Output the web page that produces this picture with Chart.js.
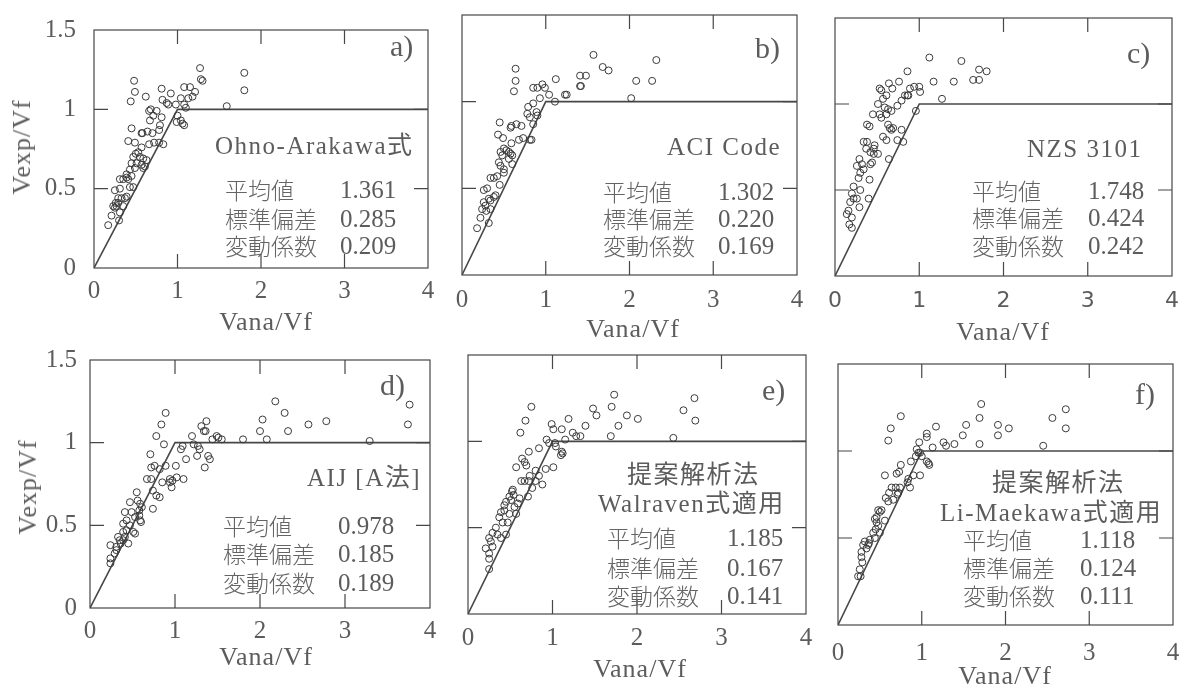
<!DOCTYPE html>
<html>
<head>
<meta charset="utf-8">
<script src="https://cdn.jsdelivr.net/npm/chart.js@4.4.0/dist/chart.umd.min.js"></script>
<style>
  html, body { margin: 0; padding: 0; background: #fff; }
  body { width: 1180px; height: 688px; position: relative; overflow: hidden; }
  canvas { position: absolute; }
  .t { position: absolute; white-space: nowrap; color: #5c5c5c; line-height: 1;
       font-family: "Liberation Serif", "Noto Sans CJK JP", serif; transform: translateY(-50%); }
  .c { transform: translate(-50%, -50%); }
  .jp { font-family: "Noto Sans CJK JP", sans-serif; font-weight: 300; font-size: 23px; color: #646464; }
</style>
</head>
<body>
<script>
// data (x = Vana/Vf, y = Vexp/Vf)
var ohnoPts = [[1.27,1.26],[1.80,1.23],[1.28,1.19],[1.30,1.18],[1.80,1.12],[0.48,1.18],[0.49,1.11],[0.81,1.13],[0.92,1.10],[0.62,1.08],[0.44,1.05],[1.08,1.14],[1.15,1.14],[1.21,1.11],[1.18,1.08],[1.13,1.07],[1.04,1.07],[0.82,1.06],[0.87,1.04],[0.89,1.03],[0.98,1.03],[1.08,1.03],[1.10,1.01],[1.59,1.02],[0.68,1.00],[0.66,0.99],[0.75,0.99],[0.71,0.96],[0.81,0.95],[0.67,0.93],[1.00,0.96],[0.99,0.92],[1.04,0.93],[1.06,0.91],[1.08,0.90],[0.45,0.88],[0.58,0.85],[0.57,0.85],[0.64,0.86],[0.70,0.85],[0.79,0.90],[0.78,0.87],[0.83,0.78],[0.41,0.80],[0.49,0.79],[0.57,0.76],[0.66,0.78],[0.72,0.79],[0.78,0.79],[0.50,0.72],[0.53,0.73],[0.47,0.70],[0.55,0.70],[0.59,0.69],[0.63,0.68],[0.45,0.66],[0.51,0.66],[0.57,0.65],[0.61,0.64],[0.43,0.62],[0.49,0.63],[0.59,0.63],[0.39,0.59],[0.45,0.58],[0.41,0.56],[0.31,0.56],[0.35,0.56],[0.39,0.57],[0.43,0.51],[0.47,0.51],[0.25,0.49],[0.31,0.50],[0.39,0.45],[0.37,0.44],[0.33,0.44],[0.29,0.44],[0.26,0.41],[0.29,0.41],[0.23,0.39],[0.27,0.39],[0.25,0.38],[0.35,0.39],[0.31,0.35],[0.21,0.33],[0.30,0.30],[0.17,0.27]];
var aciPts = [[1.57,1.27],[2.32,1.24],[1.68,1.20],[1.75,1.18],[0.64,1.19],[0.64,1.12],[1.12,1.13],[1.41,1.15],[1.48,1.15],[2.08,1.12],[2.27,1.12],[0.62,1.06],[0.85,1.08],[0.90,1.08],[0.96,1.10],[0.99,1.08],[1.04,1.04],[0.93,1.02],[1.11,1.00],[1.41,1.09],[1.42,1.09],[1.23,1.04],[1.25,1.04],[2.02,1.02],[0.79,0.97],[0.85,0.99],[0.78,0.93],[0.81,0.91],[0.89,0.94],[0.90,0.92],[0.85,0.87],[0.45,0.88],[0.58,0.85],[0.59,0.86],[0.65,0.87],[0.71,0.86],[0.43,0.81],[0.49,0.79],[0.59,0.76],[0.68,0.78],[0.73,0.79],[0.81,0.78],[0.83,0.78],[0.50,0.73],[0.53,0.72],[0.56,0.71],[0.46,0.71],[0.48,0.69],[0.58,0.70],[0.60,0.69],[0.44,0.65],[0.46,0.63],[0.50,0.61],[0.56,0.67],[0.60,0.64],[0.34,0.56],[0.38,0.56],[0.42,0.57],[0.50,0.59],[0.45,0.52],[0.26,0.49],[0.30,0.50],[0.34,0.43],[0.38,0.45],[0.40,0.46],[0.32,0.44],[0.26,0.42],[0.28,0.40],[0.24,0.38],[0.29,0.37],[0.34,0.38],[0.22,0.33],[0.32,0.30],[0.18,0.27]];
var nzsPts = [[1.12,1.27],[1.50,1.25],[1.71,1.20],[1.80,1.19],[1.64,1.14],[1.71,1.14],[0.86,1.19],[0.64,1.12],[0.76,1.13],[1.17,1.13],[1.41,1.13],[1.27,1.03],[0.53,1.09],[0.55,1.08],[0.61,1.05],[0.68,1.09],[0.89,1.09],[0.94,1.10],[1.00,1.10],[1.01,1.07],[0.83,1.05],[0.86,1.05],[0.87,1.05],[0.79,1.02],[0.74,0.99],[0.57,1.03],[0.51,1.00],[0.59,0.98],[0.63,0.97],[0.67,0.96],[0.96,0.96],[0.45,0.94],[0.53,0.94],[0.55,0.92],[0.61,0.94],[0.38,0.88],[0.41,0.87],[0.63,0.88],[0.65,0.86],[0.67,0.85],[0.69,0.86],[0.79,0.85],[0.57,0.81],[0.61,0.79],[0.74,0.79],[0.81,0.78],[0.34,0.78],[0.38,0.78],[0.37,0.74],[0.46,0.74],[0.47,0.76],[0.51,0.71],[0.42,0.72],[0.46,0.71],[0.29,0.68],[0.32,0.65],[0.26,0.64],[0.34,0.62],[0.42,0.65],[0.44,0.66],[0.30,0.60],[0.28,0.57],[0.41,0.56],[0.22,0.52],[0.30,0.50],[0.20,0.48],[0.22,0.45],[0.26,0.45],[0.40,0.45],[0.18,0.43],[0.29,0.40],[0.16,0.38],[0.14,0.36],[0.20,0.34],[0.17,0.30],[0.20,0.28],[0.64,0.68]];
var aijPts = [[2.18,1.25],[2.29,1.18],[3.76,1.23],[0.89,1.18],[2.03,1.14],[1.37,1.13],[0.84,1.11],[1.31,1.10],[1.34,1.07],[1.36,1.07],[2.00,1.07],[2.33,1.07],[2.57,1.11],[2.78,1.13],[3.74,1.11],[0.78,1.04],[1.20,1.04],[1.49,1.04],[1.51,1.03],[1.44,1.02],[1.55,1.02],[1.80,1.02],[2.08,1.02],[3.29,1.01],[0.87,0.99],[1.09,0.98],[1.22,0.99],[1.27,0.98],[1.07,0.96],[1.29,0.96],[1.26,0.92],[1.39,0.92],[1.41,0.90],[0.71,0.93],[1.13,0.90],[1.01,0.86],[0.72,0.85],[0.76,0.86],[0.82,0.84],[0.89,0.86],[1.35,0.85],[1.02,0.79],[0.94,0.78],[0.97,0.77],[1.10,0.78],[0.94,0.76],[0.96,0.73],[0.67,0.78],[0.72,0.78],[0.85,0.76],[0.74,0.71],[0.78,0.68],[0.82,0.67],[0.74,0.60],[0.55,0.70],[0.56,0.65],[0.47,0.64],[0.59,0.63],[0.61,0.61],[0.41,0.58],[0.49,0.58],[0.58,0.59],[0.53,0.55],[0.58,0.56],[0.59,0.53],[0.60,0.52],[0.43,0.53],[0.47,0.50],[0.39,0.51],[0.53,0.45],[0.33,0.43],[0.35,0.41],[0.41,0.43],[0.39,0.41],[0.45,0.39],[0.36,0.39],[0.31,0.37],[0.24,0.38],[0.31,0.35],[0.24,0.30],[0.24,0.27],[0.39,0.46],[0.51,0.46],[0.43,0.47],[0.29,0.33]];
var walravenPts = [[1.73,1.27],[2.68,1.25],[0.75,1.20],[1.48,1.19],[1.70,1.20],[1.52,1.15],[1.88,1.15],[2.55,1.18],[0.68,1.12],[1.19,1.13],[2.01,1.13],[2.69,1.12],[0.62,1.05],[0.99,1.10],[1.01,1.07],[1.11,1.07],[1.39,1.09],[1.78,1.09],[1.24,1.05],[1.28,1.03],[1.33,1.03],[1.15,1.01],[1.69,1.03],[2.43,1.02],[0.93,1.01],[0.96,0.99],[1.03,0.99],[1.04,0.97],[1.11,0.94],[1.12,0.93],[1.10,0.92],[0.84,0.96],[0.72,0.94],[0.64,0.90],[0.57,0.85],[0.67,0.88],[0.69,0.86],[0.80,0.83],[0.92,0.84],[1.01,0.85],[0.88,0.75],[0.73,0.80],[0.63,0.77],[0.67,0.77],[0.72,0.77],[0.80,0.77],[0.84,0.80],[0.76,0.73],[0.71,0.68],[0.53,0.72],[0.52,0.71],[0.49,0.68],[0.54,0.69],[0.45,0.65],[0.51,0.66],[0.59,0.64],[0.43,0.60],[0.39,0.59],[0.49,0.58],[0.37,0.56],[0.47,0.53],[0.41,0.53],[0.33,0.50],[0.29,0.47],[0.35,0.46],[0.39,0.44],[0.45,0.46],[0.25,0.44],[0.27,0.42],[0.21,0.38],[0.29,0.39],[0.25,0.35],[0.25,0.32],[0.25,0.26],[0.55,0.62],[0.57,0.58],[0.61,0.67],[0.43,0.63]];
var liMaekawaPts = [[1.71,1.27],[2.72,1.24],[0.75,1.20],[1.69,1.19],[0.63,1.13],[1.17,1.14],[1.53,1.15],[1.91,1.15],[2.04,1.13],[2.56,1.19],[2.72,1.13],[1.91,1.09],[0.60,1.06],[0.97,1.05],[1.06,1.10],[1.06,1.08],[1.13,1.02],[1.26,1.05],[1.29,1.03],[1.39,1.04],[1.49,1.09],[1.69,1.04],[2.45,1.03],[0.94,1.01],[0.96,0.99],[0.98,0.99],[0.93,0.97],[1.00,0.97],[1.06,0.94],[1.08,0.93],[1.09,0.92],[0.56,0.86],[0.70,0.87],[0.73,0.88],[0.75,0.92],[0.87,0.94],[0.90,0.86],[0.98,0.86],[0.84,0.84],[0.83,0.82],[0.86,0.79],[0.64,0.79],[0.69,0.79],[0.74,0.79],[0.72,0.76],[0.61,0.76],[0.57,0.73],[0.60,0.71],[0.66,0.72],[0.71,0.75],[0.48,0.66],[0.52,0.66],[0.50,0.65],[0.56,0.60],[0.44,0.61],[0.46,0.59],[0.48,0.57],[0.45,0.55],[0.50,0.53],[0.42,0.53],[0.38,0.49],[0.37,0.47],[0.36,0.46],[0.32,0.48],[0.34,0.44],[0.28,0.42],[0.28,0.39],[0.26,0.32],[0.29,0.36],[0.27,0.28],[0.24,0.28],[0.44,0.50],[0.30,0.46],[0.46,0.62]];

// model line Vexp = Vana (capped at 1)
var modelX = [0, 1, 4];
var modelY = [0, 1, 1];

// inner tick marks
var xTickMarks = [1, 2, 3];
var yTickMarks = [0.5, 1];

var panelLetters = ['a)', 'b)', 'c)', 'd)', 'e)', 'f)'];
var methodNames = [['Ohno-Arakawa式'], ['ACI Code'], ['NZS 3101'], ['AIJ [A法]'], ['提案解析法', 'Walraven式適用'], ['提案解析法', 'Li-Maekawa式適用']];
var statNames = ['平均値', '標準偏差', '変動係数'];
var meanValues = ['1.361', '1.302', '1.748', '0.978', '1.185', '1.118'];
var stdValues = ['0.285', '0.220', '0.424', '0.185', '0.167', '0.124'];
var covValues = ['0.209', '0.169', '0.242', '0.189', '0.141', '0.111'];

var pointSets = [ohnoPts, aciPts, nzsPts, aijPts, walravenPts, liMaekawaPts];

// plot box in page px + where the texts sit
var panels = [
    { L: 94, T: 15, R: 428, B: 268, yLab: true, yPad: 10, xPad: 0, sans: false,
      letter: [390, 46], name: [[215, 145]], rows: [225, 340, [189, 218, 245]], xt: [266, 322], yt: [22, 147] },
    { L: 462, T: 15, R: 797, B: 275, yLab: false, yPad: 0, xPad: 2, sans: false,
      letter: [755, 48], name: [[667, 146]], rows: [603, 718, [191, 218, 245]], xt: [633, 329] },
    { L: 835, T: 18, R: 1172, B: 276, yLab: false, yPad: 0, xPad: 4, sans: true,
      letter: [1127, 53], name: [[1027, 148]], rows: [972, 1088, [190, 217, 245]], xt: [1003, 332] },
    { L: 90, T: 350, R: 430, B: 608, yLab: true, yPad: 5, xPad: 0, sans: false,
      letter: [380, 385], name: [[307, 477]], rows: [223, 338, [525, 553, 582]], xt: [266, 657], yt: [28, 487] },
    { L: 468, T: 355, R: 806, B: 614, yLab: false, yPad: 0, xPad: 1, sans: false,
      letter: [762, 390], name: [[627, 474], [598, 503]], rows: [607, 727, [537, 567, 595]], xt: [640, 669] },
    { L: 838, T: 364, R: 1173, B: 625, yLab: false, yPad: 0, xPad: 5, sans: false,
      letter: [1135, 394], name: [[992, 482], [940, 512]], rows: [963, 1080, [539, 567, 595]], xt: [1005, 676] }
];

var ink = '#474747';
var serif = '"Liberation Serif", "Noto Sans CJK JP", serif';

// box + inward ticks on all four sides
var frameTicks = {
    id: 'frameTicks',
    afterDraw: function (chart) {
        var ctx = chart.ctx, a = chart.chartArea;
        var xs = chart.scales.x, ys = chart.scales.y;
        var len = 14;
        ctx.save();
        ctx.strokeStyle = ink;
        ctx.lineWidth = 1.2;
        ctx.strokeRect(a.left, a.top, a.right - a.left, a.bottom - a.top);
        ctx.beginPath();
        xTickMarks.forEach(function (v) {
            var px = xs.getPixelForValue(v);
            ctx.moveTo(px, a.bottom); ctx.lineTo(px, a.bottom - len);
            ctx.moveTo(px, a.top); ctx.lineTo(px, a.top + len);
        });
        yTickMarks.forEach(function (v) {
            var py = ys.getPixelForValue(v);
            ctx.moveTo(a.left, py); ctx.lineTo(a.left + len, py);
            ctx.moveTo(a.right, py); ctx.lineTo(a.right - len, py);
        });
        ctx.stroke();
        ctx.restore();
    }
};

function addText(txt, x, y, size, cls, extra) {
    var d = document.createElement('div');
    d.className = 't' + (cls ? ' ' + cls : '');
    d.textContent = txt;
    d.style.left = x + 'px';
    d.style.top = y + 'px';
    if (size) d.style.fontSize = size + 'px';
    if (extra) d.style.cssText += extra;
    document.body.appendChild(d);
    return d;
}

var yAxisW = 60, padTop = 10, padRight = 12, xAxisH = 45;

panels.forEach(function (p, i) {
    var cv = document.createElement('canvas');
    var w = (p.R - p.L) + yAxisW + padRight;
    var h = (p.B - p.T) + padTop + xAxisH;
    cv.width = w; cv.height = h;
    cv.style.left = (p.L - yAxisW) + 'px';
    cv.style.top = (p.T - padTop) + 'px';
    cv.style.width = w + 'px'; cv.style.height = h + 'px';
    document.body.appendChild(cv);

    new Chart(cv, {
        type: 'scatter',
        data: {
            datasets: [{
                data: pointSets[i].map(function (q) { return { x: q[0], y: q[1] }; }),
                pointStyle: 'circle',
                pointRadius: 3.5,
                borderWidth: 1,
                borderColor: '#3a3a3a',
                backgroundColor: 'rgba(255,255,255,0)'
            }, {
                data: modelX.map(function (x, k) { return { x: x, y: modelY[k] }; }),
                showLine: true,
                pointRadius: 0,
                borderWidth: 1.6,
                borderColor: ink,
                fill: false,
                tension: 0
            }]
        },
        options: {
            responsive: false,
            animation: false,
            devicePixelRatio: 1,
            layout: { padding: { top: padTop, right: padRight, left: 0, bottom: 0 } },
            plugins: { legend: { display: false }, tooltip: { enabled: false } },
            scales: {
                x: {
                    type: 'linear', min: 0, max: 4,
                    grid: { display: false }, border: { display: false },
                    ticks: {
                        stepSize: 1, padding: p.xPad, color: '#5c5c5c', maxRotation: 0,
                        font: p.sans ? { family: '"DejaVu Sans", sans-serif', size: 22 } : { family: serif, size: 25 }
                    },
                    afterFit: function (s) { s.height = xAxisH; }
                },
                y: {
                    min: 0, max: 1.5,
                    grid: { display: false }, border: { display: false },
                    ticks: {
                        display: p.yLab, stepSize: 0.5, padding: p.yPad, color: '#5c5c5c',
                        font: { family: serif, size: 25 },
                        callback: function (v) { return String(v); }
                    },
                    afterFit: function (s) { s.width = yAxisW; }
                }
            }
        },
        plugins: [frameTicks]
    });

    addText(panelLetters[i], p.letter[0], p.letter[1], 30);
    methodNames[i].forEach(function (n, k) {
        addText(n, p.name[k][0], p.name[k][1], 25, '', 'letter-spacing:1.5px;');
    });
    var vals = [meanValues[i], stdValues[i], covValues[i]];
    statNames.forEach(function (s, k) {
        addText(s, p.rows[0], p.rows[2][k], 23, 'jp');
        addText(vals[k], p.rows[1], p.rows[2][k], 25);
    });
    addText('Vana/Vf', p.xt[0], p.xt[1], 26, 'c', 'letter-spacing:1px;');
    if (p.yt) {
        addText('Vexp/Vf', p.yt[0], p.yt[1], 26, '', 'letter-spacing:1px;transform:translate(-50%,-50%) rotate(-90deg);');
    }
});
</script>
</body>
</html>
